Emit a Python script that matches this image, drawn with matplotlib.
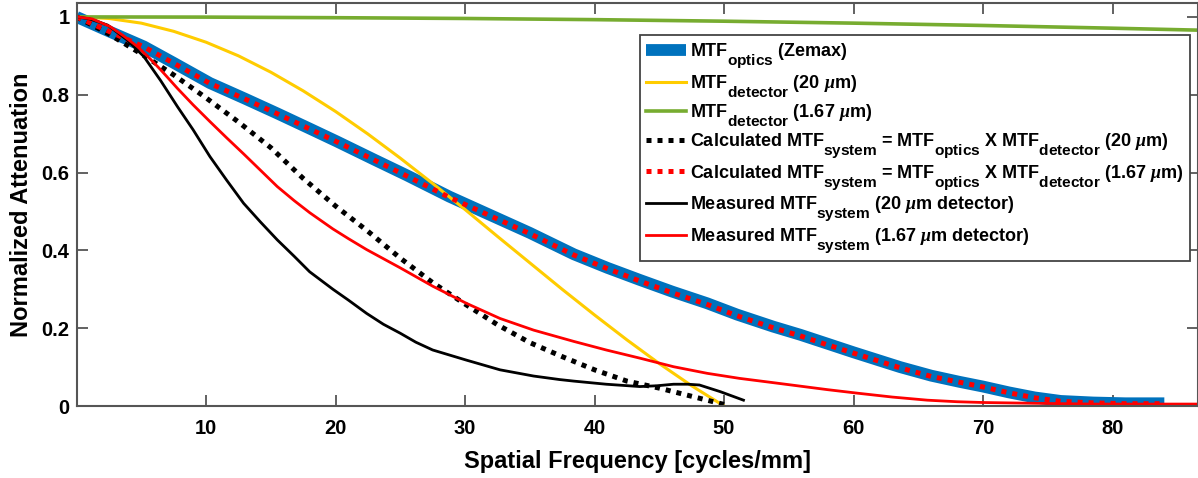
import matplotlib
matplotlib.use("Agg")
import matplotlib.pyplot as plt
import matplotlib._mathtext as mathtext_internals

plt.rcParams['font.family'] = ['Liberation Sans', 'DejaVu Sans']
plt.rcParams['font.weight'] = 'bold'
plt.rcParams['mathtext.fontset'] = 'custom'
plt.rcParams['mathtext.rm'] = 'Liberation Sans:bold'
plt.rcParams['mathtext.sf'] = 'Liberation Sans'
plt.rcParams['mathtext.it'] = 'Liberation Serif:italic:bold'
plt.rcParams['mathtext.bf'] = 'Liberation Sans:bold'
# subscripts in the legend are nearly full size and set well below the baseline
mathtext_internals.SHRINK_FACTOR = 0.85
mathtext_internals.FontConstantsBase.sub1 = 1.0

# MTF optics (Zemax)
x_optics = [0, 2.5, 5.2, 7.5, 10.3, 13, 15.5, 18, 20.1, 23, 25.5, 28.8, 32, 35, 38.4, 41,
            43.5, 46, 48.7, 51, 53.8, 55.9, 58, 60, 63.6, 66, 68.2, 70, 72, 74, 76, 78.5,
            81, 84]
y_optics = [1.0, 0.963, 0.924, 0.882, 0.83, 0.79, 0.752, 0.713, 0.68, 0.633, 0.593, 0.538,
            0.49, 0.445, 0.39, 0.355, 0.324, 0.294, 0.264, 0.235, 0.204, 0.183, 0.16, 0.138,
            0.100, 0.078, 0.062, 0.050, 0.035, 0.022, 0.013, 0.009, 0.007, 0.007]

# MTF detector (20 um)
x_det20 = [0, 2.5, 5, 7.5, 10, 12.5, 15, 17.5, 20, 22.5, 25, 27.5, 30, 32.5, 35, 37.5,
           40, 42.5, 45, 47.5, 50]
y_det20 = [1.0, 0.996, 0.984, 0.963, 0.935, 0.900, 0.858, 0.810, 0.757, 0.699, 0.637,
           0.572, 0.505, 0.436, 0.368, 0.300, 0.234, 0.170, 0.109, 0.052, 0.0]

# MTF detector (1.67 um)
x_det167 = [0, 10, 20, 30, 40, 50, 60, 70, 80, 86.6]
y_det167 = [1.0, 0.9995, 0.998, 0.996, 0.993, 0.989, 0.984, 0.978, 0.971, 0.966]

# calculated system MTF, 20 um detector
x_calc20 = [0, 2.5, 5, 7.5, 10, 12.5, 15, 17.5, 20, 22.5, 25, 27.5, 30, 32.5, 35, 37.5,
            40, 42.5, 45, 47.5, 50, 50.4]
y_calc20 = [1.0, 0.956, 0.905, 0.851, 0.792, 0.730, 0.664, 0.585, 0.514, 0.449, 0.380,
            0.317, 0.262, 0.209, 0.163, 0.127, 0.093, 0.064, 0.046, 0.025, 0.004, 0.0]

# calculated system MTF, 1.67 um detector
x_calc167 = x_optics
y_calc167 = [1.0, 0.963, 0.923, 0.881, 0.829, 0.789, 0.751, 0.712, 0.679, 0.632, 0.591,
             0.536, 0.488, 0.443, 0.388, 0.353, 0.321, 0.291, 0.261, 0.232, 0.201, 0.180,
             0.157, 0.136, 0.098, 0.076, 0.061, 0.049, 0.034, 0.021, 0.012, 0.008, 0.006,
             0.006]

# measured system MTF, 20 um detector
x_meas20 = [0, 1, 2.4, 3.9, 5.2, 6.5, 7.8, 9, 10.3, 11.6, 12.9, 14.2, 15.5, 16.8, 18, 19.8,
            21, 22.4, 23.7, 25, 26.2, 27.5, 30.1, 32.7, 35.3, 37.3, 38.4, 40.9, 43.5, 44.8,
            46.1, 47.2, 48.1, 49.7, 51.5]
y_meas20 = [1.0, 0.995, 0.979, 0.941, 0.898, 0.836, 0.769, 0.71, 0.641, 0.58, 0.521, 0.473,
            0.427, 0.385, 0.345, 0.30, 0.272, 0.238, 0.21, 0.187, 0.164, 0.144, 0.118, 0.093,
            0.077, 0.068, 0.064, 0.056, 0.05, 0.052, 0.056, 0.056, 0.054, 0.037, 0.015]

# measured system MTF, 1.67 um detector
x_meas167 = [0, 1.2, 2.6, 3.6, 4.7, 5.6, 6.5, 7.8, 9, 10.3, 11.6, 12.9, 14.2, 15.5, 16.8,
             18, 19.8, 21, 22.4, 25, 27.5, 30.1, 32.7, 35.3, 38.4, 40.9, 43.5, 46.1, 48.7,
             51.2, 53.8, 55.9, 58, 60.3, 63, 65.7, 68, 70, 74, 78.5, 82, 86.6]
y_meas167 = [1.0, 0.995, 0.975, 0.952, 0.924, 0.895, 0.864, 0.816, 0.774, 0.731, 0.689,
             0.648, 0.606, 0.564, 0.528, 0.497, 0.455, 0.43, 0.402, 0.355, 0.308, 0.264,
             0.225, 0.195, 0.166, 0.144, 0.123, 0.101, 0.084, 0.071, 0.06, 0.051, 0.042,
             0.033, 0.023, 0.015, 0.011, 0.009, 0.007, 0.005, 0.005, 0.005]

labels = [
    r'MTF$_{\mathsf{optics}}$ (Zemax)',
    r'MTF$_{\mathsf{detector}}$ (20 $\mu$m)',
    r'MTF$_{\mathsf{detector}}$ (1.67 $\mu$m)',
    r'Calculated MTF$_{\mathrm{system}}$ = MTF$_{\mathrm{optics}}$ X MTF$_{\mathsf{detector}}$ (20 $\mu$m)',
    r'Calculated MTF$_{\mathrm{system}}$ = MTF$_{\mathrm{optics}}$ X MTF$_{\mathsf{detector}}$ (1.67 $\mu$m)',
    r'Measured MTF$_{\mathrm{system}}$ (20 $\mu$m detector)',
    r'Measured MTF$_{\mathrm{system}}$ (1.67 $\mu$m detector)',
]

fig = plt.figure(figsize=(11.98, 4.78), dpi=100)
ax = fig.add_axes([0.0639, 0.1506, 0.9361, 0.8425])

ax.plot(x_optics, y_optics, color='#0072BD', lw=8.5, solid_capstyle='butt', label=labels[0])
ax.plot(x_det20, y_det20, color='#FFCC00', lw=2.2, label=labels[1])
ax.plot(x_det167, y_det167, color='#77AC30', lw=2.6, label=labels[2])
ax.plot(x_calc20, y_calc20, color='black', lw=3.6, linestyle=(0, (1, 1.2)), label=labels[3])
ax.plot(x_calc167, y_calc167, color='red', lw=3.6, linestyle=(0, (1, 1.2)), label=labels[4])
ax.plot(x_meas20, y_meas20, color='black', lw=2.0, label=labels[5])
ax.plot(x_meas167, y_meas167, color='red', lw=2.0, label=labels[6])

ax.set_xlim(0, 86.6)
ax.set_ylim(0, 1.035)
ax.set_xticks([10, 20, 30, 40, 50, 60, 70, 80])
ax.set_yticks([0, 0.2, 0.4, 0.6, 0.8, 1.0])
ax.set_yticklabels(['0', '0.2', '0.4', '0.6', '0.8', '1'])
ax.tick_params(direction='in', length=8, width=1.3, color='#555555',
               top=True, right=True, labelsize=14.5)
ax.tick_params(axis='x', pad=9)
ax.tick_params(axis='y', pad=5)
for s in ax.spines.values():
    s.set_color('#555555')
    s.set_linewidth(1.5)

ax.set_xlabel('Spatial Frequency [cycles/mm]', fontsize=17, fontweight='bold', labelpad=9)
ax.set_ylabel('Normalized Attenuation', fontsize=17, fontweight='bold', labelpad=6)

leg = ax.legend(loc='upper right', bbox_to_anchor=(0.993, 0.921), borderaxespad=0,
                fontsize=13, handlelength=2.2, handletextpad=0.25, labelspacing=0.17,
                fancybox=False, framealpha=1, edgecolor='#444444', borderpad=0.35)
leg.get_frame().set_linewidth(1.3)

fig.savefig('out.png', dpi=100)
